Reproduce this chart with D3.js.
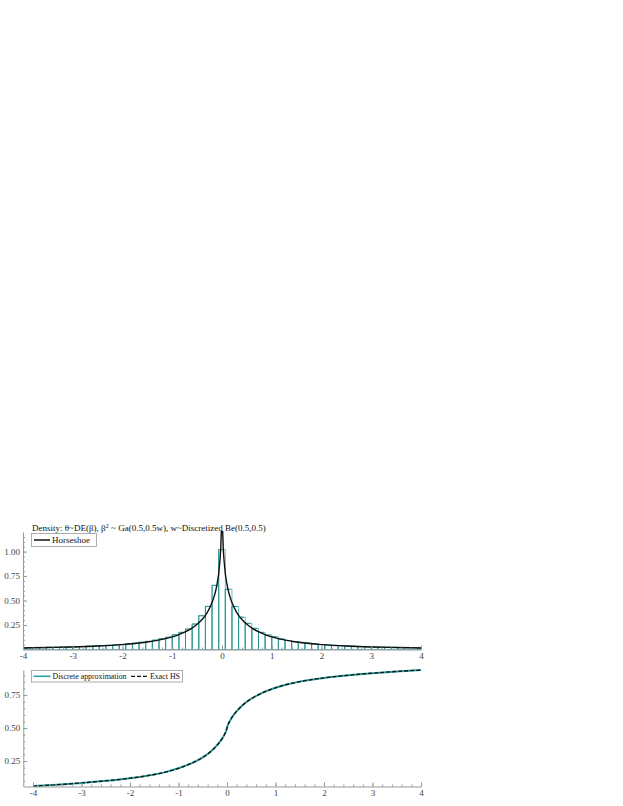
<!DOCTYPE html>
<html><head><meta charset="utf-8">
<script src="https://cdn.jsdelivr.net/npm/d3@7"></script>
<style>
body{margin:0;background:#fff}
text{font-family:"Liberation Serif","DejaVu Serif",serif}
</style></head>
<body>
<svg id="c" width="623" height="806"></svg>
<script>
// ---------- DATA ----------
const titleText = ["Density: θ~DE(β), β", "2", " ~ Ga(0.5,0.5w), w~Discretized Be(0.5,0.5)"];
const xTickValues = [-4,-3,-2,-1,0,1,2,3,4];
const xTickLabels = ["-4","-3","-2","-1","0","1","2","3","4"];
const topYTicks = [0.25,0.5,0.75,1.0];
const topYLabels = ["0.25","0.50","0.75","1.00"];
const botYTicks = [0.25,0.5,0.75];
const botYLabels = ["0.25","0.50","0.75"];

const binWidth = 0.1333;
const binCenters = [-4.000,-3.867,-3.733,-3.600,-3.467,-3.333,-3.200,-3.067,-2.933,-2.800,
  -2.667,-2.533,-2.400,-2.267,-2.133,-2.000,-1.867,-1.733,-1.600,-1.467,
  -1.333,-1.200,-1.067,-0.933,-0.800,-0.667,-0.533,-0.400,-0.267,-0.133,
  0.000,
  0.133,0.267,0.400,0.533,0.667,0.800,0.933,1.067,1.200,1.333,
  1.467,1.600,1.733,1.867,2.000,2.133,2.267,2.400,2.533,2.667,
  2.800,2.933,3.067,3.200,3.333,3.467,3.600,3.733,3.867,4.000];
const binHeights = [0.017,0.018,0.019,0.020,0.022,0.023,0.025,0.027,0.029,0.031,
  0.034,0.036,0.039,0.043,0.047,0.052,0.058,0.065,0.074,0.083,
  0.095,0.110,0.125,0.150,0.175,0.209,0.260,0.345,0.440,0.655,
  1.020,
  0.615,0.440,0.330,0.267,0.216,0.175,0.148,0.130,0.107,0.092,
  0.080,0.073,0.066,0.058,0.051,0.047,0.043,0.040,0.036,0.034,
  0.031,0.029,0.027,0.025,0.023,0.022,0.020,0.019,0.018,0.016];

const hsX = [-4,-3.5,-3,-2.5,-2,-1.75,-1.5,-1.25,-1,-0.875,-0.75,-0.625,-0.5,-0.4,-0.3,-0.2,-0.15,-0.1,-0.05,-0.02,-0.01,-0.004,
  0.004,0.01,0.02,0.05,0.1,0.15,0.2,0.3,0.4,0.5,0.625,0.75,0.875,1,1.25,1.5,1.75,2,2.5,3,3.5,4];
const hsDensity = [0.0157,0.020,0.026,0.035,0.050,0.062,0.077,0.098,0.129,0.150,0.177,0.211,0.258,0.307,0.375,0.480,0.555,0.665,0.860,1.110,1.300,1.600,
  1.600,1.300,1.110,0.860,0.665,0.555,0.480,0.375,0.307,0.258,0.211,0.177,0.150,0.129,0.098,0.077,0.062,0.050,0.035,0.026,0.020,0.0157];

const cdfX = [-4,-3.5,-3,-2.5,-2,-1.5,-1.25,-1,-0.75,-0.5,-0.4,-0.3,-0.2,-0.15,-0.1,-0.05,-0.02,0,
  0.02,0.05,0.1,0.15,0.2,0.3,0.4,0.5,0.75,1,1.25,1.5,2,2.5,3,3.5,4];
const cdfDiscrete = [0.060,0.071,0.084,0.100,0.120,0.148,0.168,0.195,0.230,0.278,0.303,0.334,0.372,0.394,0.420,0.452,0.476,0.500,
  0.524,0.548,0.580,0.606,0.628,0.666,0.697,0.722,0.770,0.805,0.832,0.852,0.880,0.900,0.916,0.929,0.940];
const cdfExact = [0.060,0.071,0.084,0.100,0.120,0.148,0.168,0.195,0.230,0.278,0.303,0.334,0.372,0.394,0.420,0.452,0.476,0.500,
  0.524,0.548,0.580,0.606,0.628,0.666,0.697,0.722,0.770,0.805,0.832,0.852,0.880,0.900,0.916,0.929,0.940];

const minorX = [-4,-3.8,-3.6,-3.4,-3.2,-3,-2.8,-2.6,-2.4,-2.2,-2,-1.8,-1.6,-1.4,-1.2,-1,-0.8,-0.6,-0.4,-0.2,0,
  0.2,0.4,0.6,0.8,1,1.2,1.4,1.6,1.8,2,2.2,2.4,2.6,2.8,3,3.2,3.4,3.6,3.8,4];
const minorYTop = [0.05,0.1,0.15,0.2,0.25,0.3,0.35,0.4,0.45,0.5,0.55,0.6,0.65,0.7,0.75,0.8,0.85,0.9,0.95,1.0,1.05,1.1,1.15];
const minorYBot = [0.1,0.15,0.2,0.25,0.3,0.35,0.4,0.45,0.5,0.55,0.6,0.65,0.7,0.75,0.8,0.85,0.9];

// ---------- STYLE ----------
const teal = "#1e8b8b", tealLight = "#6fc0c0", axisGray = "#999", labelCol = "#444";
const svg = d3.select("#c");

// ---------- TOP PANEL ----------
const xT = d3.scaleLinear().domain([-4,4]).range([23,421]);
const yT = d3.scaleLinear().domain([0,1.2]).range([649.5,532]);

svg.append("clipPath").attr("id","clipT").append("rect")
  .attr("x",23).attr("y",531).attr("width",398.5).attr("height",119);

const gT = svg.append("g").attr("clip-path","url(#clipT)");
const bars = binCenters.map((c,i)=>({c,h:binHeights[i]}));
gT.selectAll("rect.l").data(bars).join("rect").attr("class","l")
  .attr("x",d=>xT(d.c-binWidth/2)).attr("width",d=>xT(d.c+binWidth/2)-xT(d.c-binWidth/2))
  .attr("y",d=>yT(d.h)).attr("height",d=>yT(0)-yT(d.h))
  .attr("fill","none").attr("stroke",tealLight).attr("stroke-width",1);
gT.selectAll("path.d").data(bars).join("path").attr("class","d")
  .attr("d",d=>{const x0=xT(d.c-binWidth/2), x1=xT(d.c+binWidth/2)-1.5, y0=yT(0), y1=yT(d.h);
    return `M${x0},${y0}V${y1}H${x1}`;})
  .attr("fill","none").attr("stroke",teal).attr("stroke-width",0.9);

const hsPts = hsX.map((x,i)=>[x,hsDensity[i]]);
gT.append("path").datum(hsPts)
  .attr("d",d3.line().x(d=>xT(d[0])).y(d=>yT(d[1])).curve(d3.curveMonotoneX))
  .attr("fill","none").attr("stroke","#111").attr("stroke-width",1.4);

function styleAxis(g){
  g.attr("font-family",null);
  g.selectAll(".domain").attr("stroke",axisGray).attr("stroke-width",1);
  g.selectAll(".tick line").attr("stroke",axisGray);
  g.selectAll(".tick text").attr("fill",labelCol).style("font-size","9px");
}
const axT = svg.append("g").attr("transform",`translate(0,${yT(0)})`)
  .call(d3.axisBottom(xT).tickValues(xTickValues).tickFormat((d,i)=>xTickLabels[i]).tickSizeInner(-4).tickSizeOuter(0).tickPadding(3));
styleAxis(axT);
svg.append("g").attr("transform",`translate(0,${yT(0)})`)
  .call(d3.axisBottom(xT).tickValues(minorX).tickFormat("").tickSizeInner(-2).tickSizeOuter(0))
  .call(g=>{g.select(".domain").remove();g.selectAll("line").attr("stroke",axisGray);});
const ayT = svg.append("g").attr("transform",`translate(${xT(-4)},0)`)
  .call(d3.axisLeft(yT).tickValues(topYTicks).tickFormat((d,i)=>topYLabels[i]).tickSizeInner(-4).tickSizeOuter(0).tickPadding(3));
styleAxis(ayT);
svg.append("g").attr("transform",`translate(${xT(-4)},0)`)
  .call(d3.axisLeft(yT).tickValues(minorYTop).tickFormat("").tickSizeInner(-2).tickSizeOuter(0))
  .call(g=>{g.select(".domain").remove();g.selectAll("line").attr("stroke",axisGray);});

const tt = svg.append("text").attr("x",32).attr("y",530.5).attr("fill","#111").style("font-size","9px");
tt.append("tspan").text(titleText[0]);
tt.append("tspan").attr("dy",-3).style("font-size","6.5px").text(titleText[1]);
tt.append("tspan").attr("dy",3).text(titleText[2]);

svg.append("rect").attr("x",31.5).attr("y",533.5).attr("width",65).attr("height",13)
  .attr("fill","#fff").attr("stroke",axisGray).attr("stroke-width",0.8);
svg.append("line").attr("x1",34).attr("x2",50).attr("y1",540).attr("y2",540).attr("stroke","#111").attr("stroke-width",1.5);
svg.append("text").attr("x",52).attr("y",543.3).attr("fill","#111").style("font-size","9px").text("Horseshoe");

// ---------- BOTTOM PANEL ----------
const xB = d3.scaleLinear().domain([-4.2,4]).range([23.3,421]);
const yB = d3.scaleLinear().domain([0.057,0.94]).range([786.5,670]);

const line = d3.line().x(d=>xB(d[0])).y(d=>yB(d[1])).curve(d3.curveMonotoneX);
svg.append("path").datum(cdfX.map((x,i)=>[x,cdfDiscrete[i]])).attr("d",line)
  .attr("fill","none").attr("stroke","#2aa3a3").attr("stroke-width",2);
svg.append("path").datum(cdfX.map((x,i)=>[x,cdfExact[i]])).attr("d",line)
  .attr("fill","none").attr("stroke","#111").attr("stroke-width",1.3).attr("stroke-dasharray","4,2");

const axB = svg.append("g").attr("transform",`translate(0,${yB.range()[0]})`)
  .call(d3.axisBottom(xB).tickValues(xTickValues).tickFormat((d,i)=>xTickLabels[i]).tickSizeInner(-4).tickSizeOuter(0).tickPadding(3));
styleAxis(axB);
svg.append("g").attr("transform",`translate(0,${yB.range()[0]})`)
  .call(d3.axisBottom(xB).tickValues(minorX).tickFormat("").tickSizeInner(-2).tickSizeOuter(0))
  .call(g=>{g.select(".domain").remove();g.selectAll("line").attr("stroke",axisGray);});
const ayB = svg.append("g").attr("transform",`translate(${xB(-4.2)},0)`)
  .call(d3.axisLeft(yB).tickValues(botYTicks).tickFormat((d,i)=>botYLabels[i]).tickSizeInner(-4).tickSizeOuter(0).tickPadding(3));
styleAxis(ayB);
svg.append("g").attr("transform",`translate(${xB(-4.2)},0)`)
  .call(d3.axisLeft(yB).tickValues(minorYBot).tickFormat("").tickSizeInner(-2).tickSizeOuter(0))
  .call(g=>{g.select(".domain").remove();g.selectAll("line").attr("stroke",axisGray);});

svg.append("rect").attr("x",31.5).attr("y",670.5).attr("width",151).attr("height",11.5)
  .attr("fill","#fff").attr("stroke",axisGray).attr("stroke-width",0.8);
svg.append("line").attr("x1",33.5).attr("x2",50.5).attr("y1",676.3).attr("y2",676.3).attr("stroke","#2aa3a3").attr("stroke-width",1.6);
svg.append("text").attr("x",52.5).attr("y",679.3).attr("fill","#111").style("font-size","8.5px")
  .attr("textLength",74).attr("lengthAdjust","spacingAndGlyphs").text("Discrete approximation");
svg.append("line").attr("x1",131).attr("x2",148).attr("y1",676.3).attr("y2",676.3).attr("stroke","#111").attr("stroke-width",1.3).attr("stroke-dasharray","4,2");
svg.append("text").attr("x",150).attr("y",679.3).attr("fill","#111").style("font-size","8.5px")
  .attr("textLength",30).attr("lengthAdjust","spacingAndGlyphs").text("Exact HS");
</script>
</body></html>
